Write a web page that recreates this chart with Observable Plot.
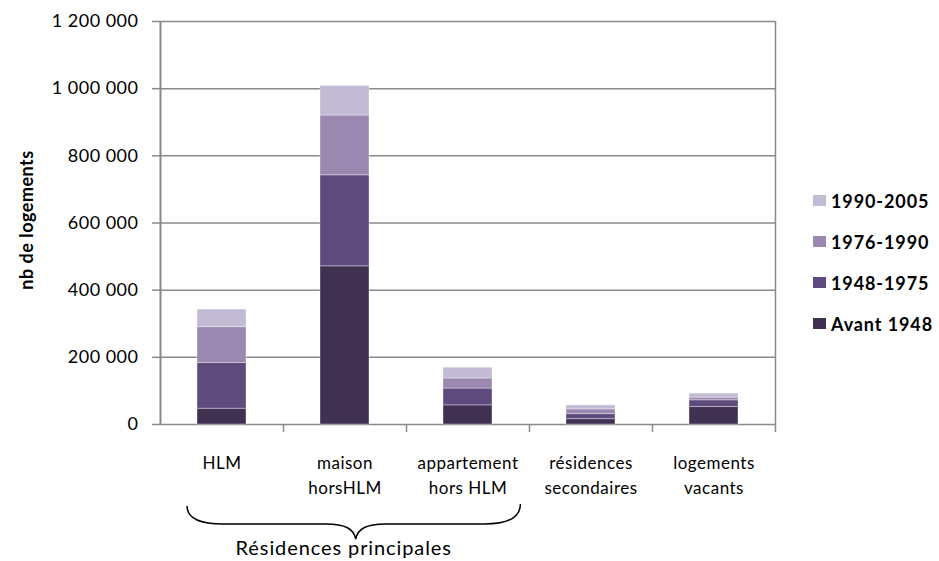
<!DOCTYPE html>
<html>
<head>
<meta charset="utf-8">
<script src="https://cdn.jsdelivr.net/npm/d3@7"></script>
<script src="https://cdn.jsdelivr.net/npm/@observablehq/plot@0.6"></script>
<style>
  body { margin: 0; background: #fff; }
  #wrap { position: relative; width: 939px; height: 561px; font-family: Lato, "Open Sans", sans-serif; }
  #legend { position: absolute; left: 813px; top: 180px; }
  .item { display: flex; align-items: center; height: 41px; font-weight: bold; font-size: 18px; letter-spacing: 0.9px; color: #000; }
  .sw { width: 13px; height: 11px; margin-right: 5px; }
</style>
</head>
<body>
<div id="wrap">
  <div id="chart"></div>
  <div id="legend"></div>
</div>
<script>
(function () {
// ---- data ----
const categories = ["HLM", "maison horsHLM", "appartement hors HLM", "résidences secondaires", "logements vacants"];
const categoryLabels = ["HLM", "maison\nhorsHLM", "appartement\nhors HLM", "résidences\nsecondaires", "logements\nvacants"];
const series = ["Avant 1948", "1948-1975", "1976-1990", "1990-2005"];
const avant1948   = [47000, 471000, 57000, 16000, 52000];
const p1948_1975  = [136000, 271000, 50000, 15000, 20000];
const p1976_1990  = [107000, 178000, 30000, 14000, 8000];
const p1990_2005  = [52000, 88000, 32000, 12000, 12000];
const yTicks = [0, 200000, 400000, 600000, 800000, 1000000, 1200000];
const colors = ["#403152", "#5e4a7c", "#9b88b0", "#c3bbd4"];
const yLabel = "nb de logements";
const groupLabel = "Résidences principales";

// ---- table ----
const seriesValues = [avant1948, p1948_1975, p1976_1990, p1990_2005];
const rows = series.flatMap((s, si) => categories.map((c, ci) => ({category: c, period: s, value: seriesValues[si][ci]})));

const fmt = d => d3.format(",")(d).replace(/,/g, " ");
const gray = "#8a8a8a";
const W = 939, H = 561, mL = 160, mR = 164, mT = 21, mB = 137;
const step = (W - mL - mR) / categories.length;
const yMax = yTicks[yTicks.length - 1];

const plot = Plot.plot({
  width: W, height: H,
  marginTop: mT, marginBottom: mB, marginLeft: mL, marginRight: mR,
  style: {fontFamily: "Lato, 'Open Sans', sans-serif", fontSize: "16px", color: "#000", background: "transparent", letterSpacing: "0.5px"},
  x: {domain: categories, paddingInner: 0.6, paddingOuter: 0.3},
  y: {domain: [0, yMax]},
  color: {domain: series, range: colors},
  marks: [
    Plot.ruleY(yTicks, {stroke: gray, strokeWidth: 1.5}),
    Plot.barY(rows, {x: "category", y: "value", fill: "period", stroke: "#ffffff", strokeOpacity: 0.35, strokeWidth: 1}),
    Plot.ruleX([categories[0]], {dx: -step / 2, y1: yMax, y2: 0, stroke: gray, strokeWidth: 2}),
    Plot.ruleX([categories[categories.length - 1]], {dx: step / 2, y1: yMax, y2: 0, insetBottom: -8, stroke: gray, strokeWidth: 1.5}),
    Plot.ruleX(categories.slice(1), {dx: -step / 2, y1: 0, y2: 0, insetBottom: -8, stroke: gray, strokeWidth: 1.5}),
    Plot.axisY({ticks: yTicks, tickFormat: fmt, tickSize: 8, tickPadding: 14, stroke: gray, strokeWidth: 1.5, fill: "#000", fontSize: 18, label: null}),
    Plot.axisX({tickSize: 0, tickPadding: 27, tickFormat: d => categoryLabels[categories.indexOf(d)], fill: "#000", fontSize: 17, lineHeight: 1.45, label: null}),
    Plot.text([yLabel], {frameAnchor: "left", textAnchor: "middle", rotate: -90, dx: -133, dy: -3, fontWeight: "bold", fontSize: 18, fill: "#000"})
  ]
});
document.getElementById("chart").appendChild(plot);

// ---- brace annotation over the "résidences principales" groups ----
const xs = plot.scale("x");
const bandStart = c => xs.apply(c) - (xs.step - xs.bandwidth) / 2;
const ys = plot.scale("y");
const L = bandStart(categories[0]) + 0.22 * xs.step;
const R = bandStart(categories[2]) + 0.93 * xs.step;
const M = (L + R) / 2 + 2;
const base = ys.apply(0);
const bTop = base + 82, bMid = base + 100, bTip = base + 115;
const path = `M${L},${bTop} C${L},${bMid - 4} ${L + 16},${bMid} ${L + 36},${bMid} L${M - 30},${bMid} C${M - 10},${bMid} ${M - 2},${bMid + 5} ${M},${bTip} C${M + 2},${bMid + 5} ${M + 10},${bMid} ${M + 30},${bMid} L${R - 36},${bMid} C${R - 16},${bMid} ${R},${bMid - 4} ${R},${bTop - 2}`;
const svg = d3.select(plot);
svg.append("path").attr("d", path).attr("fill", "none").attr("stroke", "#000").attr("stroke-width", 1.5);
svg.append("text").attr("x", M - 12).attr("y", base + 124).attr("dy", "0.35em")
  .attr("text-anchor", "middle").attr("font-size", 20).attr("letter-spacing", "0.9px").attr("fill", "#000").text(groupLabel);

// ---- legend ----
const legend = d3.select("#legend");
series.slice().reverse().forEach(s => {
  const it = legend.append("div").attr("class", "item");
  it.append("div").attr("class", "sw").style("background", colors[series.indexOf(s)]);
  it.append("span").text(s);
});
})();
</script>
</body>
</html>
